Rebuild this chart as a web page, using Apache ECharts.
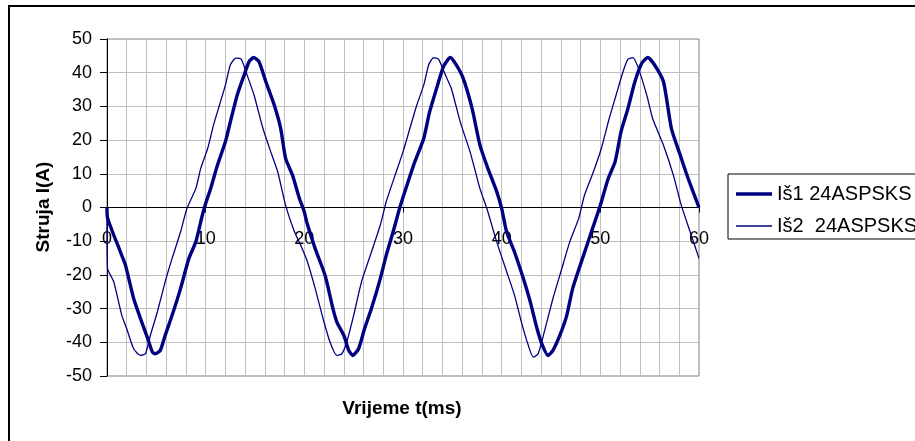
<!DOCTYPE html>
<html>
<head>
<meta charset="utf-8">
<script src="https://cdn.jsdelivr.net/npm/echarts@6/dist/echarts.min.js"></script>
<style>
  html, body { margin: 0; padding: 0; background: #fff; }
  #chart { width: 915px; height: 441px; }
</style>
</head>
<body>
<div id="chart"></div>
<script>
// Struja Iš1 24ASPSKS: vrijeme (ms) i struja (A)
const t1 = [0, 0.05, 1.36, 1.86, 2.7, 3.4, 4.07, 4.6, 4.9, 5.4, 5.9, 6.6, 7.46, 8.3, 9.0, 9.66, 10.0, 10.5, 11.2, 12.0, 12.5, 13.2, 13.9, 14.4, 14.85, 15.4, 16.1, 16.95, 17.6, 18.1, 18.8, 19.5, 20.0,
  20.24, 21.1, 22.1, 22.9, 23.3, 24.0, 24.5, 24.9, 25.5, 26.1, 26.8, 27.7, 28.3, 29.0, 29.7, 30.4, 31.2, 32.1, 32.7, 33.4, 34.1, 34.8, 35.4, 36.1, 37.0, 37.8, 38.6, 39.5, 40.0,
  40.5, 41.3, 42.2, 42.9, 43.5, 44.0, 44.7, 45.2, 45.9, 46.6, 47.2, 48.3, 49.1, 50.0, 50.8, 51.5, 52.1, 52.8, 53.5, 54.2, 54.8, 55.5, 56.4, 57.2, 58.1, 58.9, 60];
const i1 = [0, -3, -13.2, -17, -27, -33, -38.4, -42.9, -43.4, -42.4, -37.9, -32, -24, -15.1, -10.2, -2.3, 1.2, 5.6, 12.6, 19.5, 25.4, 33.4, 39.3, 43.3, 44.5, 43.3, 37.3, 30.4, 23.5, 14.6, 9.6, 2.7, -1.3,
  -4.3, -12.2, -20.1, -30, -34, -37.9, -42.4, -43.9, -41.9, -36, -30, -21.1, -14.2, -7.2, 0.2, 6.6, 13.6, 20.5, 28.4, 35.3, 41.8, 44.5, 42.3, 38.3, 29.4, 18.5, 11.6, 4.7, -0.3,
  -7.2, -13.2, -21.1, -28, -35, -39.9, -43.9, -42.4, -37.9, -32, -24, -14.2, -7.2, 0.7, 8.6, 13.6, 22.5, 29.4, 37.3, 42.8, 44.5, 42.3, 37.3, 23.5, 15.5, 8.6, 0];

// Struja Iš2 24ASPSKS
const t2 = [0, 0.05, 0.68, 1.5, 2.0, 2.7, 3.4, 3.9, 4.4, 5.1, 5.9, 6.6, 7.46, 8.1, 9.0, 9.5, 10.2, 10.8, 11.4, 12.0, 12.5, 13.05, 13.6, 14.2, 14.9, 15.8, 16.6, 17.3, 18.1, 19.0, 19.6,
  20.3, 21.1, 21.9, 22.6, 23.3, 23.8, 24.3, 25.0, 25.8, 26.8, 27.7, 28.3, 29.2, 30.0, 30.7, 31.4, 32.1, 32.6, 33.1, 33.6, 34.3, 34.9, 35.8, 36.8, 37.8, 38.5, 39.5,
  40.5, 41.3, 42.0, 42.7, 43.2, 43.7, 44.4, 45.2, 46.1, 46.9, 47.8, 48.4, 49.3, 50.1, 50.9, 51.6, 52.3, 52.8, 53.3, 53.8, 54.7, 55.3, 56.4, 57.4, 58.2, 59.1, 60];
const i2 = [0, -18, -22, -32, -36, -41.9, -43.9, -43.4, -37.9, -31, -22, -15.1, -7.2, -0.3, 5.6, 11.6, 17.5, 24.5, 30.4, 36.3, 42.3, 44.3, 44, 39.3, 33.4, 23.5, 16.5, 10.6, 0.7, -7.2, -11,
  -16, -24, -33, -39.9, -43.9, -43.4, -39.9, -32, -22, -13.2, -5.2, 1.7, 9.6, 16.5, 23.5, 30.4, 36.3, 42.3, 44.5, 44, 39.3, 35.3, 25.4, 16.5, 5.6, -0.3, -10.2,
  -19, -26, -34, -40.9, -44.4, -43.4, -36, -27, -18.1, -10.2, -3.3, 3.7, 10.6, 17.5, 26.4, 33.4, 40.3, 44, 44.5, 41.8, 33.4, 26.4, 18.5, 9.6, 0.7, -7.2, -15.1];

const seriesNames = ['Iš1 24ASPSKS', 'Iš2  24ASPSKS'];
const xTitle = 'Vrijeme t(ms)';
const yTitle = 'Struja I(A)';

const pairs = (xs, ys) => xs.map((x, k) => [x, ys[k]]);
const FONT = 'Liberation Sans, Arial, sans-serif';
const NAVY = '#000080';
const THICK = 3.4, THIN = 1.3;

// Plot box
const GRID = { left: 107, right: 216, top: 39, bottom: 65 };
const plotHeight = 441 - GRID.top - GRID.bottom;
// x labels sit just below the zero line rather than at the bottom edge
const zeroFromBottom = plotHeight / 2;

const chart = echarts.init(document.getElementById('chart'), null, { renderer: 'canvas' });
chart.setOption({
  animation: false,
  backgroundColor: '#fff',
  grid: Object.assign({ show: true, borderColor: '#808080', borderWidth: 1, backgroundColor: '#fff' }, GRID),
  xAxis: {
    type: 'value', min: 0, max: 60, interval: 10,
    axisLine: { onZero: true, lineStyle: { color: '#000', width: 1 } },
    axisTick: { show: true, length: 5, lineStyle: { color: '#000' } },
    minorTick: { show: false, splitNumber: 5 },
    axisLabel: { fontSize: 18, color: '#000', fontFamily: FONT, margin: 23 - zeroFromBottom },
    splitLine: { show: true, showMinLine: false, showMaxLine: false, lineStyle: { color: '#c0c0c0', width: 1 } },
    minorSplitLine: { show: true, lineStyle: { color: '#c0c0c0', width: 1 } }
  },
  yAxis: {
    type: 'value', min: -50, max: 50, interval: 10,
    axisLine: { show: true, onZero: false, lineStyle: { color: '#000', width: 1 } },
    axisTick: { show: true, length: 7, lineStyle: { color: '#000' } },
    axisLabel: { fontSize: 18, color: '#000', fontFamily: FONT, margin: 15 },
    splitLine: { show: true, showMinLine: false, showMaxLine: false, lineStyle: { color: '#c0c0c0', width: 1 } }
  },
  legend: {
    left: 728, top: 174,
    orient: 'vertical',
    padding: [10, 12, 3, 8],
    itemWidth: 36, itemHeight: 14, itemGap: 12,
    borderColor: '#000', borderWidth: 1,
    textStyle: { fontSize: 20, color: '#000', fontFamily: FONT },
    data: [
      { name: seriesNames[0], icon: 'path://M0,0h36v' + THICK + 'h-36z' },
      { name: seriesNames[1], icon: 'path://M0,0h36v' + THIN + 'h-36z' }
    ]
  },
  graphic: [
    {
      type: 'rect', silent: true, z: -1,
      shape: { x: 9, y: 6, width: 1000, height: 1000 },
      style: { fill: 'none', stroke: '#000', lineWidth: 2 }
    },
    {
      type: 'text', silent: true,
      x: 402, y: 409,
      style: { text: xTitle, font: 'bold 19px ' + FONT, fill: '#000', align: 'center', verticalAlign: 'middle' }
    },
    {
      type: 'text', silent: true,
      x: 44, y: 207, rotation: Math.PI / 2,
      style: { text: yTitle, font: 'bold 19px ' + FONT, fill: '#000', align: 'center', verticalAlign: 'middle' }
    }
  ],
  series: [
    {
      name: seriesNames[0], type: 'line', data: pairs(t1, i1),
      showSymbol: false, symbol: 'none', smooth: 0.2,
      lineStyle: { color: NAVY, width: THICK }, itemStyle: { color: NAVY }, z: 3
    },
    {
      name: seriesNames[1], type: 'line', data: pairs(t2, i2),
      showSymbol: false, symbol: 'none', smooth: 0.2,
      lineStyle: { color: NAVY, width: THIN }, itemStyle: { color: NAVY }, z: 2
    }
  ]
});
</script>
</body>
</html>
